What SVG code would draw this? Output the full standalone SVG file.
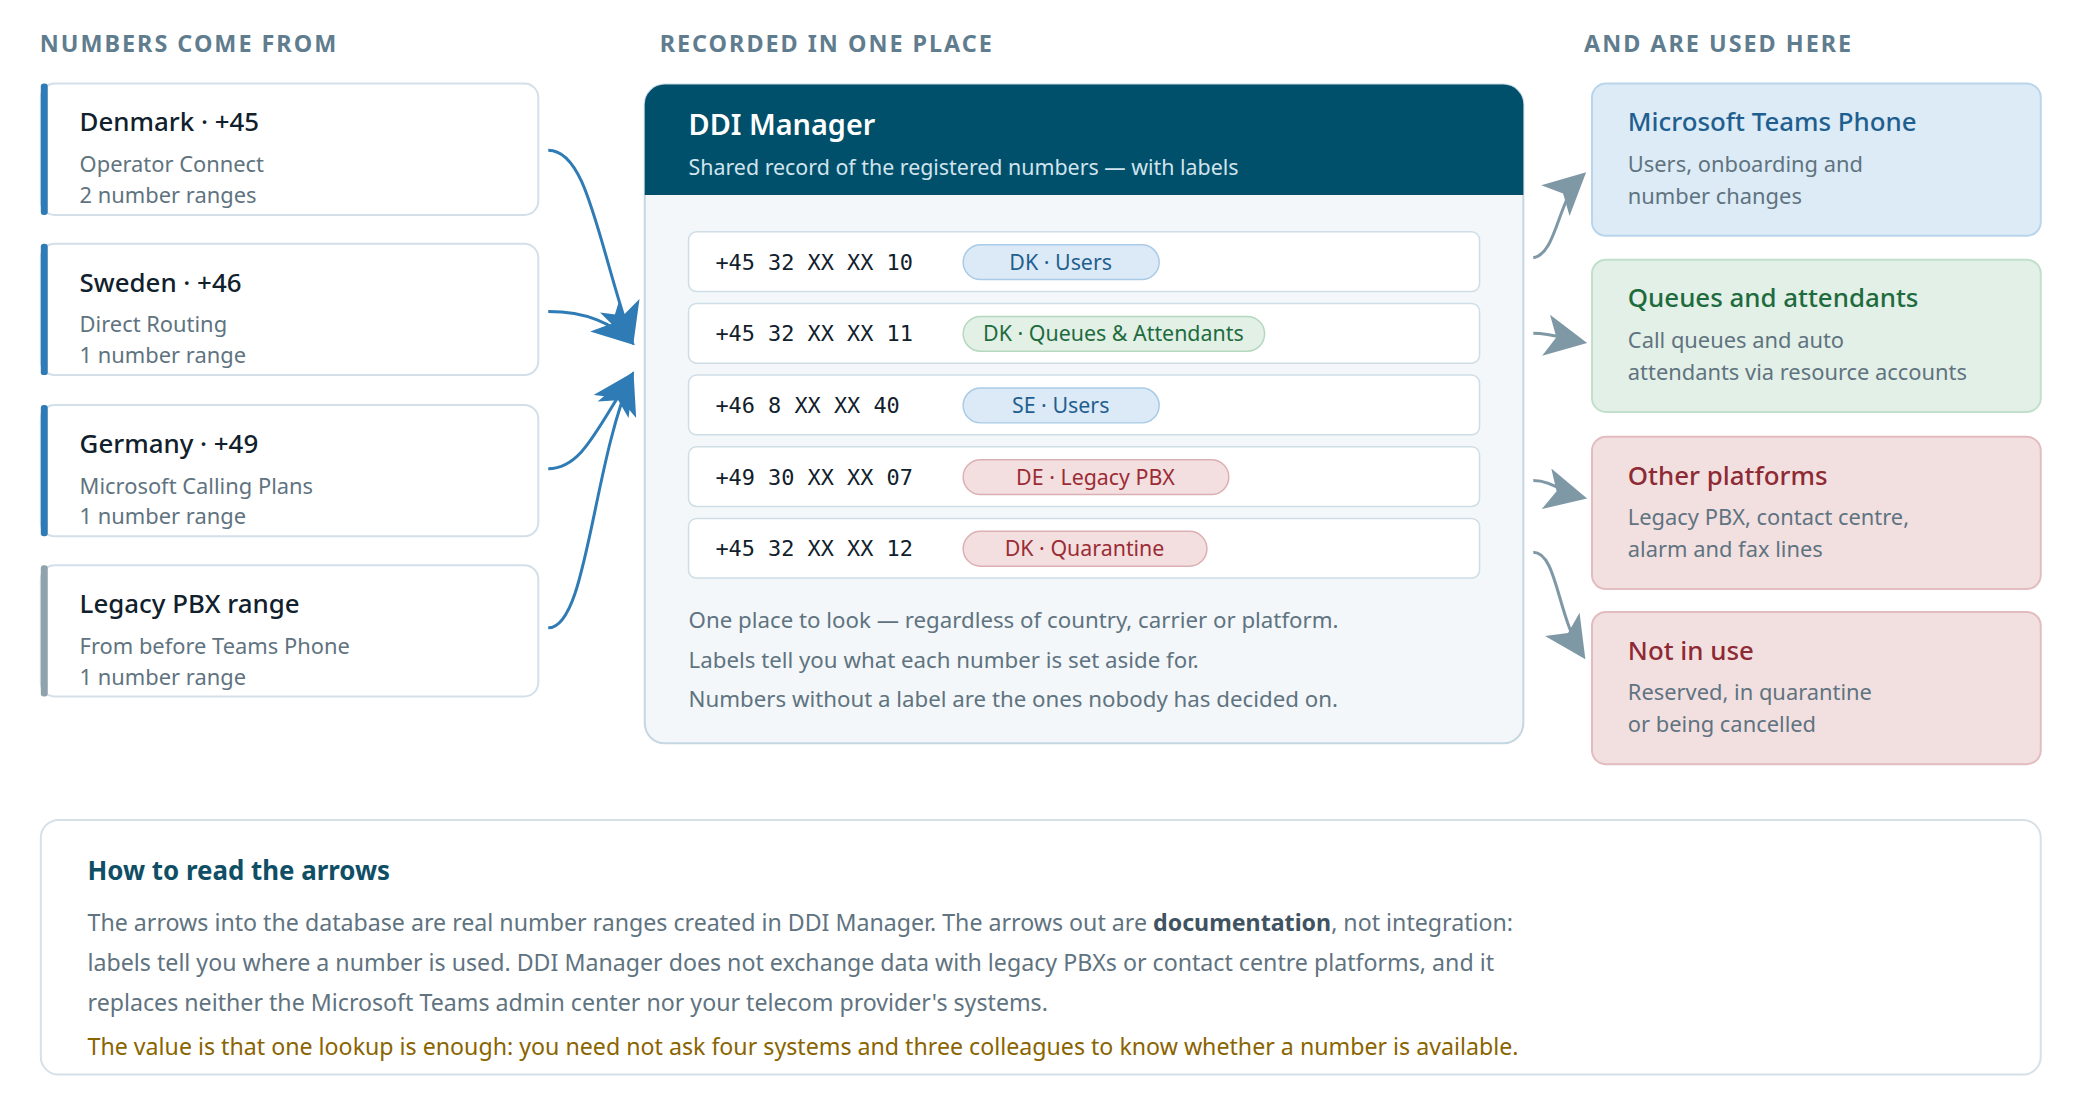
<svg xmlns="http://www.w3.org/2000/svg" width="2080" height="1120" viewBox="0 0 2080 1120">
<defs>
<style>
text{font-family:"Noto Sans","Open Sans",sans-serif}
.hd{font-size:23.5px;font-weight:700;fill:#5f7d8e;letter-spacing:2px}
.card{fill:#fff;stroke:#d3e0ea;stroke-width:2}
.ct{font-size:26px;fill:#10202c;font-weight:500}
.cs{font-size:22px;fill:#5f7380}
.row{fill:#fff;stroke:#cfdde6;stroke-width:1.5}
.num{font-family:"DejaVu Sans Mono",monospace;font-size:22px;fill:#10202c}
.pl{font-size:21.5px;text-anchor:middle}
.pb{fill:#dbeaf6;stroke:#a9cbe6;stroke-width:1.5}.tb{fill:#1f5f8f}
.pg{fill:#e2f0e6;stroke:#b5d8bf;stroke-width:1.5}.tg{fill:#1e6b3e}
.pr{fill:#f3dfe0;stroke:#dcb0b3;stroke-width:1.5}.tr{fill:#9b2c35}
.note{font-size:22.4px;fill:#5f7380}
.rt{font-size:26px;font-weight:500}
.ain{fill:none;stroke:#2e7bb5;stroke-width:3}
.aout{fill:none;stroke:#7f98a6;stroke-width:3}
.ft{font-size:23.3px;fill:#5f7380}
.gold{fill:#8a6400}
.doc{font-weight:700;fill:#3f5360}
</style>
<marker id="mb" viewBox="0 0 10 10" refX="9" refY="5" markerWidth="42" markerHeight="42" markerUnits="userSpaceOnUse" orient="auto"><path d="M0,0 L10,5 L0,10 L2.5,5 z" fill="#2e7bb5"/></marker>
<marker id="mg" viewBox="0 0 10 10" refX="9" refY="5" markerWidth="42" markerHeight="42" markerUnits="userSpaceOnUse" orient="auto"><path d="M0,0 L10,5 L0,10 L2.5,5 z" fill="#7f98a6"/></marker>
</defs>
<rect width="2080" height="1120" fill="#fff"/>
<g transform="scale(0.995)">
<text class="hd" x="40" y="52">NUMBERS COME FROM</text>
<text class="hd" x="663" y="52">RECORDED IN ONE PLACE</text>
<text class="hd" x="1592" y="52">AND ARE USED HERE</text>

<g id="denmark"><rect class="card" x="41" y="84" width="500" height="132" rx="14"/><rect x="41" y="84" width="7" height="132" rx="3" fill="#2e7bb5"/>
<text class="ct" x="80" y="132">Denmark · +45</text><text class="cs" x="80" y="173">Operator Connect</text><text class="cs" x="80" y="204">2 number ranges</text></g>
<g id="sweden"><rect class="card" x="41" y="245" width="500" height="132" rx="14"/><rect x="41" y="245" width="7" height="132" rx="3" fill="#2e7bb5"/>
<text class="ct" x="80" y="293">Sweden · +46</text><text class="cs" x="80" y="334">Direct Routing</text><text class="cs" x="80" y="365">1 number range</text></g>
<g id="germany"><rect class="card" x="41" y="407" width="500" height="132" rx="14"/><rect x="41" y="407" width="7" height="132" rx="3" fill="#2e7bb5"/>
<text class="ct" x="80" y="455">Germany · +49</text><text class="cs" x="80" y="496">Microsoft Calling Plans</text><text class="cs" x="80" y="527">1 number range</text></g>
<g id="legacy"><rect class="card" x="41" y="568" width="500" height="132" rx="14"/><rect x="41" y="568" width="7" height="132" rx="3" fill="#8fa3ad"/>
<text class="ct" x="80" y="616">Legacy PBX range</text><text class="cs" x="80" y="657">From before Teams Phone</text><text class="cs" x="80" y="688">1 number range</text></g>

<g id="ddi">
<rect x="648" y="85" width="883" height="662" rx="20" fill="#f3f7fa" stroke="#c4d6e2" stroke-width="2"/>
<path d="M648,196 V105 a20,20 0 0 1 20,-20 H1511 a20,20 0 0 1 20,20 V196 z" fill="#00506b"/>
<text x="692" y="136" font-size="29" font-weight="600" fill="#fff">DDI Manager</text>
<text x="692" y="176" font-size="21.5" fill="#d0e4ee">Shared record of the registered numbers — with labels</text>
<rect class="row" x="692" y="233" width="795" height="60" rx="8"/><text class="num" x="719" y="271">+45 32 XX XX 10</text>
<rect class="pb" x="968" y="246" width="197" height="35" rx="17.5"/><text class="pl tb" x="1066" y="271">DK · Users</text>
<rect class="row" x="692" y="305" width="795" height="60" rx="8"/><text class="num" x="719" y="343">+45 32 XX XX 11</text>
<rect class="pg" x="968" y="318" width="303" height="35" rx="17.5"/><text class="pl tg" x="1119" y="343">DK · Queues &amp; Attendants</text>
<rect class="row" x="692" y="377" width="795" height="60" rx="8"/><text class="num" x="719" y="415">+46 8 XX XX 40</text>
<rect class="pb" x="968" y="390" width="197" height="35" rx="17.5"/><text class="pl tb" x="1066" y="415">SE · Users</text>
<rect class="row" x="692" y="449" width="795" height="60" rx="8"/><text class="num" x="719" y="487">+49 30 XX XX 07</text>
<rect class="pr" x="968" y="462" width="267" height="35" rx="17.5"/><text class="pl tr" x="1101" y="487">DE · Legacy PBX</text>
<rect class="row" x="692" y="521" width="795" height="60" rx="8"/><text class="num" x="719" y="559">+45 32 XX XX 12</text>
<rect class="pr" x="968" y="534" width="245" height="35" rx="17.5"/><text class="pl tr" x="1090" y="559">DK · Quarantine</text>
<text class="note" x="692" y="631">One place to look — regardless of country, carrier or platform.</text>
<text class="note" x="692" y="671">Labels tell you what each number is set aside for.</text>
<text class="note" x="692" y="711">Numbers without a label are the ones nobody has decided on.</text>
</g>

<g id="teams"><rect x="1600" y="84" width="451" height="153" rx="14" fill="#dcebf6" stroke="#b8d5ec" stroke-width="2"/>
<text class="rt" x="1636" y="132" fill="#1f5f8f">Microsoft Teams Phone</text><text class="cs" x="1636" y="173">Users, onboarding and</text><text class="cs" x="1636" y="205">number changes</text></g>
<g id="queues"><rect x="1600" y="261" width="451" height="153" rx="14" fill="#e3f0e7" stroke="#c2dfcb" stroke-width="2"/>
<text class="rt" x="1636" y="309" fill="#1e6b3e">Queues and attendants</text><text class="cs" x="1636" y="350">Call queues and auto</text><text class="cs" x="1636" y="382">attendants via resource accounts</text></g>
<g id="other"><rect x="1600" y="439" width="451" height="153" rx="14" fill="#f2e0e1" stroke="#e3bcbf" stroke-width="2"/>
<text class="rt" x="1636" y="487" fill="#8e2a33">Other platforms</text><text class="cs" x="1636" y="528">Legacy PBX, contact centre,</text><text class="cs" x="1636" y="560">alarm and fax lines</text></g>
<g id="notinuse"><rect x="1600" y="615" width="451" height="153" rx="14" fill="#f2e0e1" stroke="#e3bcbf" stroke-width="2"/>
<text class="rt" x="1636" y="663" fill="#8e2a33">Not in use</text><text class="cs" x="1636" y="704">Reserved, in quarantine</text><text class="cs" x="1636" y="736">or being cancelled</text></g>

<g id="connectors">
<path class="ain" d="M551,151 C590,151 600,240 635,343" marker-end="url(#mb)"/>
<path class="ain" d="M551,313 C590,313 615,325 635,344" marker-end="url(#mb)"/>
<path class="ain" d="M551,471 C585,471 600,430 635,377" marker-end="url(#mb)"/>
<path class="ain" d="M551,631 C590,631 595,470 635,377" marker-end="url(#mb)"/>
<path class="aout" d="M1541,259 C1565,255 1565,200 1591,176" marker-end="url(#mg)"/>
<path class="aout" d="M1541,335 C1560,335 1570,340 1591,344" marker-end="url(#mg)"/>
<path class="aout" d="M1541,483 C1560,483 1570,495 1591,500" marker-end="url(#mg)"/>
<path class="aout" d="M1541,555 C1565,555 1565,620 1591,659" marker-end="url(#mg)"/>
</g>

<g id="legend">
<rect x="41" y="824" width="2010" height="256" rx="18" fill="#fff" stroke="#d5e0e7" stroke-width="2"/>
<text x="88" y="884" font-size="26" font-weight="700" fill="#0f4f66">How to read the arrows</text>
<text class="ft" x="88" y="936">The arrows into the database are real number ranges created in DDI Manager. The arrows out are <tspan class="doc">documentation</tspan>, not integration:</text>
<text class="ft" x="88" y="976">labels tell you where a number is used. DDI Manager does not exchange data with legacy PBXs or contact centre platforms, and it</text>
<text class="ft" x="88" y="1016">replaces neither the Microsoft Teams admin center nor your telecom provider's systems.</text>
<text class="ft gold" x="88" y="1060">The value is that one lookup is enough: you need not ask four systems and three colleagues to know whether a number is available.</text>
</g>
</g>
</svg>
